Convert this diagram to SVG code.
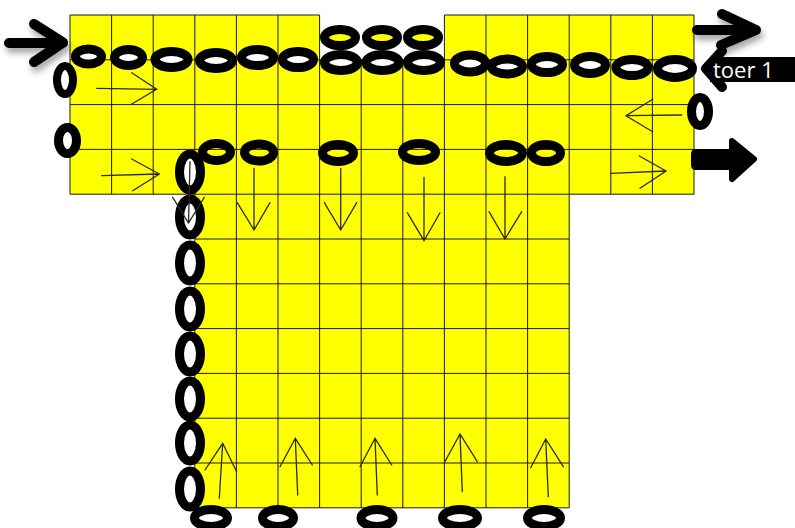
<svg xmlns="http://www.w3.org/2000/svg" width="795" height="528" viewBox="0 0 795 528">
<defs>
<style>
.y{fill:#ffff00;stroke:none}
.g{fill:none;stroke:#1a1a1a;stroke-width:1}
.ov{fill:#fff;stroke:#000;stroke-width:9}
.ovy{fill:#ffff00;stroke:#000;stroke-width:9}
.ovn{fill:none;stroke:#000;stroke-width:9}
.thin{fill:none;stroke:#2b2b1a;stroke-width:1.3;stroke-linecap:round}
.bold{fill:none;stroke:#000;stroke-width:10;stroke-linecap:round;stroke-linejoin:round}
.lbl{font-family:"Open Sans","Liberation Sans",sans-serif;font-size:22px;fill:#fff}
</style>
<filter id="sh" x="-30%" y="-30%" width="160%" height="180%">
<feDropShadow dx="2" dy="5" stdDeviation="3" flood-color="#000" flood-opacity="0.35"/>
</filter>
</defs>
<rect width="795" height="528" fill="#fff"/>
<g id="grid">
<rect class="y" x="70" y="15" width="249.6" height="179.2"/>
<rect class="y" x="319.6" y="59.8" width="124.8" height="134.4"/>
<rect class="y" x="444.4" y="15" width="249.6" height="179.2"/>
<rect class="y" x="194.8" y="194.2" width="374.4" height="313.6"/>
<path class="g" d="M70,15H319.6M444.4,15H694M70,59.8H694M70,104.6H694M70,149.4H694M70,194.2H694M194.8,239H569.2M194.8,283.8H569.2M194.8,328.6H569.2M194.8,373.4H569.2M194.8,418.2H569.2M194.8,463H569.2M194.8,507.8H569.2M70,15V194.2M111.6,15V194.2M153.2,15V194.2M194.8,15V507.8M236.4,15V507.8M278,15V507.8M319.6,15V507.8M361.2,59.8V507.8M402.8,59.8V507.8M444.4,15V507.8M486,15V507.8M527.6,15V507.8M569.2,15V507.8M610.8,15V194.2M652.4,15V194.2M694,15V194.2"/>
</g>
<g id="chain-top">
<ellipse class="ovy" cx="340" cy="37.5" rx="15.5" ry="8"/>
<ellipse class="ovy" cx="382" cy="37.5" rx="15.5" ry="8"/>
<ellipse class="ovy" cx="423" cy="37.5" rx="15.5" ry="8"/>
<ellipse class="ov" cx="88.5" cy="56.5" rx="13" ry="7.5"/>
<ellipse class="ov" cx="128.5" cy="57.5" rx="14" ry="8"/>
<ellipse class="ov" cx="171.5" cy="59.5" rx="16.5" ry="8"/>
<ellipse class="ov" cx="216" cy="60.5" rx="16.5" ry="8"/>
<ellipse class="ov" cx="257.5" cy="57.5" rx="16" ry="8"/>
<ellipse class="ov" cx="298" cy="59.5" rx="15.5" ry="8"/>
<ellipse class="ov" cx="341" cy="62.5" rx="16.5" ry="8"/>
<ellipse class="ov" cx="382.5" cy="62.5" rx="16.5" ry="8"/>
<ellipse class="ov" cx="424" cy="62.5" rx="16.5" ry="8"/>
<ellipse class="ov" cx="470" cy="63.5" rx="15.5" ry="8.5"/>
<ellipse class="ov" cx="507" cy="66.5" rx="15.5" ry="7.5"/>
<ellipse class="ov" cx="547" cy="64.5" rx="15.5" ry="8"/>
<ellipse class="ov" cx="590" cy="65" rx="15.5" ry="8.5"/>
<ellipse class="ov" cx="632" cy="67.5" rx="16" ry="8"/>
<ellipse class="ov" cx="675" cy="68.5" rx="17.5" ry="9"/>
</g>
<g id="side-ovals">
<ellipse class="ov" cx="65" cy="80" rx="8" ry="14" style="stroke-width:8"/>
<ellipse class="ov" cx="67.5" cy="140.5" rx="9" ry="13"/>
<ellipse class="ov" cx="700" cy="111.5" rx="8.5" ry="14"/>
</g>
<g id="chain-row2">
<ellipse class="ovn" cx="216.5" cy="152" rx="14" ry="8.5"/>
<ellipse class="ovn" cx="259" cy="152.5" rx="14.5" ry="8.5"/>
<ellipse class="ovn" cx="338" cy="153" rx="15.5" ry="8.5"/>
<ellipse class="ovn" cx="419" cy="152" rx="16.5" ry="8.5"/>
<ellipse class="ovn" cx="506" cy="153" rx="16.5" ry="8.5"/>
<ellipse class="ovn" cx="546" cy="153" rx="14.5" ry="8.5"/>
</g>
<g id="chain-left">
<ellipse class="ov" cx="190" cy="172" rx="10.5" ry="18"/>
<ellipse class="ov" cx="190" cy="217" rx="10.5" ry="18"/>
<ellipse class="ov" cx="190" cy="263" rx="10.5" ry="18"/>
<ellipse class="ov" cx="190" cy="309" rx="10.5" ry="18"/>
<ellipse class="ov" cx="190" cy="354" rx="10.5" ry="18"/>
<ellipse class="ov" cx="190" cy="399" rx="10.5" ry="18"/>
<ellipse class="ov" cx="190" cy="443" rx="10.5" ry="18"/>
<ellipse class="ov" cx="190" cy="489" rx="10.5" ry="18"/>
</g>
<g id="chain-bottom">
<ellipse class="ov" cx="211" cy="518" rx="16.5" ry="8.5"/>
<ellipse class="ov" cx="278" cy="518" rx="15.5" ry="8.5"/>
<ellipse class="ov" cx="377" cy="518" rx="16" ry="8.5"/>
<ellipse class="ov" cx="460" cy="518" rx="17.5" ry="8.5"/>
<ellipse class="ov" cx="544" cy="518" rx="16.5" ry="8.5"/>
</g>
<g id="connectors">
<path class="thin" d="M96.7,88.3L156.7,89.3M131.7,72.7L156.7,89.3L131.7,104"/>
<path class="thin" d="M101.7,175.7L159.3,174M131.7,159L159.3,174L132.7,190.7"/>
<path class="thin" d="M681.7,115L626,115.7M652.7,99.3L626,115.7L652.7,131.7"/>
<path class="thin" d="M610.7,173.3L666,171M639.3,156L666,171L640,188.3"/>
<path class="thin" d="M190,161.7L188.5,223M172.7,197.3L188.5,223L204.3,197.3"/>
<path class="thin" d="M254,168.3V230M237.3,202.7L254,230L270,202.7"/>
<path class="thin" d="M340.7,168.3V230M324.3,202.7L340.7,230L356.7,202.7"/>
<path class="thin" d="M424,177.3V240.7M407.3,212.7L424,240.7L440,212.7"/>
<path class="thin" d="M505,176.7V239M489,211.7L505,239L521.7,211.7"/>
<path class="thin" d="M219.3,498.3L222.7,443.3M205,470L222.7,443.3L236.7,471.7"/>
<path class="thin" d="M297.7,495L295.3,438.3M280,466.7L295.3,438.3L312.3,465"/>
<path class="thin" d="M377.3,495L375,438.3M360,466.7L375,438.3L391.7,465"/>
<path class="thin" d="M462.3,491.7L460,434M444.3,462.7L460,434L477.3,461.7"/>
<path class="thin" d="M548.3,496.7L545.7,439M530.7,467.7L545.7,439L563.3,466.7"/>
<path class="bold" filter="url(#sh)" d="M9,43H63M34,24L63,42.5L34,62"/>
<path class="bold" filter="url(#sh)" d="M697,30H756M722,14L756,30L721,45"/>
<path d="M691,154Q691,149 696,149H733V170H696Q691,170 691,165Z" fill="#000"/>
<path d="M732,141L754,159L732,179Z" fill="#000" stroke="#000" stroke-width="6" stroke-linejoin="round"/>
</g>
<g id="toer1">
<path class="bold" d="M722,51L706,68.5L722,87"/>
<rect x="710" y="57" width="85" height="25" fill="#000"/>
<text class="lbl" x="713" y="77.5">toer 1</text>
</g>
</svg>
